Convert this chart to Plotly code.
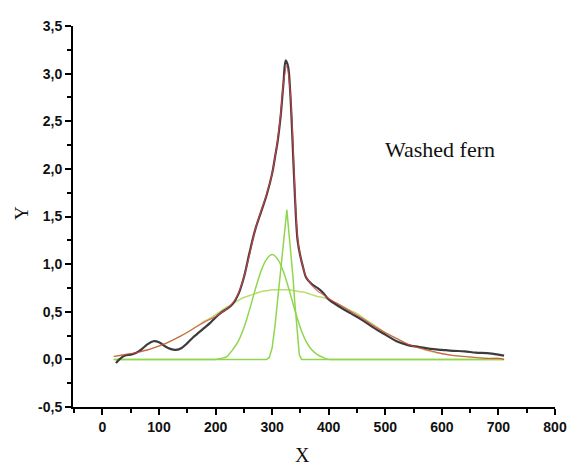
import plotly.graph_objects as go

# Measured spectrum (black)
data_x = [24, 30, 40, 50, 60, 70, 80, 90, 100, 110, 120, 130, 140, 150, 160, 170, 180, 190,
          200, 210, 220, 230, 240, 250, 260, 270, 280, 290, 300, 305, 310, 315, 320, 324,
          328, 332, 336, 340, 345, 350, 355, 360, 370, 380, 390, 400, 420, 440, 460, 480,
          500, 520, 540, 560, 580, 600, 620, 640, 660, 680, 700, 710]
data_y = [-0.04, 0.00, 0.04, 0.05, 0.07, 0.11, 0.16, 0.19, 0.18, 0.14, 0.11, 0.10, 0.12, 0.17,
          0.23, 0.28, 0.33, 0.38, 0.44, 0.49, 0.53, 0.58, 0.68, 0.86, 1.12, 1.36, 1.54, 1.72,
          1.95, 2.12, 2.30, 2.55, 2.90, 3.14, 3.08, 2.80, 2.30, 1.75, 1.25, 1.08, 0.96, 0.86,
          0.79, 0.75, 0.70, 0.63, 0.55, 0.48, 0.41, 0.33, 0.26, 0.19, 0.15, 0.13, 0.11, 0.10,
          0.09, 0.085, 0.07, 0.065, 0.05, 0.04]

# Cumulative fit (red)
fit_x = [20, 40, 60, 80, 100, 120, 140, 160, 180, 200, 210, 220, 230, 240, 250, 260, 270, 280,
         290, 300, 305, 310, 315, 320, 326, 332, 337, 340, 345, 350, 355, 360, 370, 380, 390,
         400, 420, 440, 460, 480, 500, 520, 540, 560, 580, 600, 620, 640, 660, 680, 700, 710]
fit_y = [0.03, 0.05, 0.07, 0.10, 0.14, 0.19, 0.25, 0.32, 0.39, 0.45, 0.49, 0.53, 0.59, 0.69,
         0.86, 1.10, 1.36, 1.55, 1.73, 1.95, 2.12, 2.32, 2.58, 2.90, 3.08, 2.80, 2.25, 1.80,
         1.28, 1.08, 0.96, 0.87, 0.78, 0.72, 0.68, 0.64, 0.57, 0.50, 0.43, 0.35, 0.28, 0.22,
         0.16, 0.12, 0.09, 0.06, 0.04, 0.03, 0.02, 0.01, 0.01, 0.00]

# Fitted components (green)
comp_x = [20, 30, 40, 50, 60, 70, 80, 90, 100, 110, 120, 130, 140, 150, 160, 170, 180, 190,
          200, 210, 220, 230, 240, 250, 260, 270, 280, 290, 300, 310, 320, 330, 340, 350,
          360, 370, 380, 390, 400, 410, 420, 430, 440, 450, 460, 470, 480, 490, 500, 510,
          520, 530, 540, 550, 560, 570, 580, 590, 600, 610, 620, 630, 640, 650, 660, 670,
          680, 690, 700, 710]
broad_y = [0.03, 0.04, 0.05, 0.06, 0.07, 0.09, 0.10, 0.12, 0.14, 0.16, 0.19, 0.22, 0.25, 0.28,
           0.32, 0.36, 0.40, 0.43, 0.47, 0.51, 0.55, 0.58, 0.62, 0.65, 0.67, 0.69, 0.71, 0.72,
           0.73, 0.73, 0.73, 0.73, 0.72, 0.71, 0.70, 0.68, 0.66, 0.65, 0.63, 0.60, 0.57,
           0.54, 0.51, 0.48, 0.44, 0.40, 0.36, 0.32, 0.28, 0.25, 0.22, 0.19, 0.16, 0.14,
           0.12, 0.10, 0.085, 0.07, 0.06, 0.05, 0.04, 0.035, 0.03, 0.025, 0.02, 0.015,
           0.01, 0.01, 0.01, 0.00]
mid_y = [0, 0, 0, 0, 0, 0, 0, 0, 0, 0, 0, 0, 0, 0, 0, 0, 0, 0,
         0.00, 0.01, 0.03, 0.10, 0.19, 0.33, 0.52, 0.73, 0.92, 1.05, 1.10, 1.05, 0.92, 0.73,
         0.52, 0.33, 0.19, 0.10, 0.05, 0.02, 0.00, 0, 0, 0, 0, 0, 0, 0, 0, 0, 0, 0,
         0, 0, 0, 0, 0, 0, 0, 0, 0, 0, 0, 0, 0, 0, 0, 0, 0, 0, 0, 0]
narrow_x = [20, 290, 295, 300, 305, 310, 315, 320, 326, 332, 337, 340, 345, 348, 352, 710]
narrow_y = [0, 0, 0.02, 0.12, 0.35, 0.62, 0.92, 1.22, 1.57, 1.22, 0.85, 0.60, 0.22, 0.05, 0, 0]

x_ticks = [0, 100, 200, 300, 400, 500, 600, 700, 800]
x_tick_labels = ["0", "100", "200", "300", "400", "500", "600", "700", "800"]
y_ticks = [-0.5, 0.0, 0.5, 1.0, 1.5, 2.0, 2.5, 3.0, 3.5]
y_tick_labels = ["-0,5", "0,0", "0,5", "1,0", "1,5", "2,0", "2,5", "3,0", "3,5"]

green = "#8fd64e"
fig = go.Figure()
fig.add_trace(go.Scatter(x=comp_x, y=broad_y, mode="lines", line=dict(color="#b8e070", width=1.5, shape="spline"), showlegend=False))
fig.add_trace(go.Scatter(x=comp_x, y=mid_y, mode="lines", line=dict(color=green, width=1.5, shape="spline"), showlegend=False))
fig.add_trace(go.Scatter(x=narrow_x, y=narrow_y, mode="lines", line=dict(color=green, width=1.5), showlegend=False))
fig.add_trace(go.Scatter(x=data_x, y=data_y, mode="lines", line=dict(color="#3c3c3c", width=2.2, shape="spline"), showlegend=False))
fig.add_trace(go.Scatter(x=fit_x, y=fit_y, mode="lines", line=dict(color="#e0404a", width=1.1, shape="spline"), opacity=0.85, showlegend=False))

tickfont = dict(family="Liberation Sans, Arial, sans-serif", size=14, color="#111", weight="bold")
serif = "Liberation Serif, Times New Roman, serif"
fig.update_layout(
    width=569, height=458,
    margin=dict(l=65, r=14, t=10, b=59),
    paper_bgcolor="white", plot_bgcolor="white",
    xaxis=dict(range=[-52, 800], tickvals=x_ticks, ticktext=x_tick_labels, ticks="outside", ticklen=6, tickwidth=1.5,
               tickcolor="black", showline=True, linecolor="black", linewidth=2,
               showgrid=False, zeroline=False, tickfont=tickfont,
               minor=dict(dtick=50, tick0=0, ticks="outside", ticklen=4, tickcolor="black", showgrid=False)),
    yaxis=dict(range=[-0.5, 3.5], tickvals=y_ticks, ticktext=y_tick_labels, ticks="outside", ticklen=6,
               tickwidth=1.5, tickcolor="black", showline=True, linecolor="black", linewidth=2,
               showgrid=False, zeroline=False, tickfont=tickfont,
               minor=dict(dtick=0.25, tick0=0, ticks="outside", ticklen=4, tickcolor="black", showgrid=False)),
    annotations=[
        dict(x=596, y=2.2, xref="x", yref="y", text="Washed fern", showarrow=False,
             xanchor="center", yanchor="middle",
             font=dict(family=serif, size=22, color="#111")),
        dict(x=0.476, y=-0.126, xref="paper", yref="paper", text="X", showarrow=False,
             xanchor="center", yanchor="middle",
             font=dict(family=serif, size=20, color="#111")),
        dict(x=-0.108, y=0.509, xref="paper", yref="paper", text="Y", showarrow=False, textangle=-90,
             xanchor="center", yanchor="middle",
             font=dict(family=serif, size=19, color="#111")),
    ],
)
fig.write_html("out.html")
